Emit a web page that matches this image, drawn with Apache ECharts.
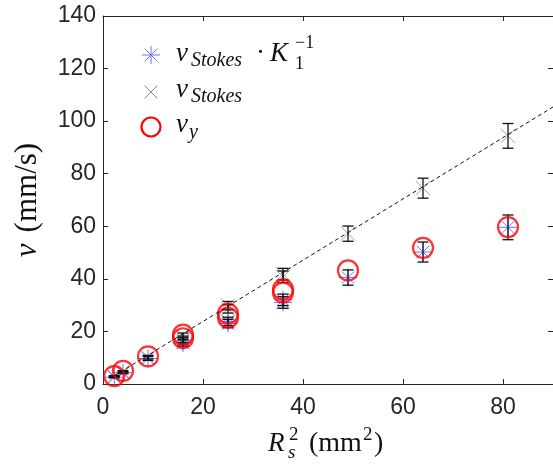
<!DOCTYPE html>
<html><head><meta charset="utf-8">
<script src="https://cdn.jsdelivr.net/npm/echarts/dist/echarts.min.js"></script>
<style>html,body{margin:0;padding:0;background:#fff}#c{width:553px;height:467px}</style>
</head><body><div id="c"></div>
<script>
// R_s^2 (mm^2)
const xR2 = [2.25, 4, 9, 16, 16, 25, 25, 36, 36, 49, 64, 81];
// measured v_y (mm/s)
const vY = [3.0, 5.0, 10.5, 18.8, 17.4, 26.8, 25.2, 36.0, 34.8, 43.2, 51.8, 59.7];
// v_Stokes (mm/s) and its error
const vStokes = [2.9, 4.7, 10.2, 18.2, 17.0, 29.8, 28.6, 41.8, 40.8, 57.2, 74.5, 94.4];
const vStokesErr = [0.3, 0.4, 0.7, 1.2, 1.2, 1.6, 1.6, 2.2, 2.2, 2.9, 3.8, 4.7];
// v_Stokes * K1^-1 (mm/s) and its error
const vStokesK = [2.6, 4.3, 9.7, 16.4, 15.6, 23.8, 23.0, 32.0, 31.0, 40.5, 50.2, 59.6];
const vStokesKErr = [0.3, 0.4, 0.7, 1.2, 1.2, 1.6, 1.6, 2.2, 2.2, 2.9, 3.8, 4.7];
// dashed fit line
const fitX = [2.25, 90];
const fitY = [3.1, 105.4];
// axis ticks
const xTicks = [0, 20, 40, 60, 80];
const yTicks = [0, 20, 40, 60, 80, 100, 120, 140];

const AX = '#262626';
const SERIF = '"Liberation Serif", serif';
const chart = echarts.init(document.getElementById('c'), null, {renderer: 'canvas'});

function errData(v, e) { return xR2.map((x, i) => [x, v[i] - e[i], v[i] + e[i]]); }
function errRender(params, api) {
  const x = api.value(0);
  const p1 = api.coord([x, api.value(2)]);
  const p2 = api.coord([x, api.value(1)]);
  const w = 5.5;
  const st = {stroke: '#111', lineWidth: 1.3};
  return {type: 'group', children: [
    {type: 'line', shape: {x1: p1[0], y1: p1[1], x2: p2[0], y2: p2[1]}, style: st},
    {type: 'line', shape: {x1: p1[0] - w, y1: p1[1], x2: p1[0] + w, y2: p1[1]}, style: st},
    {type: 'line', shape: {x1: p2[0] - w, y1: p2[1], x2: p2[0] + w, y2: p2[1]}, style: st}
  ]};
}
const STAR = 'path://M10,0L10,20M0,10L20,10M3,3L17,17M3,17L17,3';
const XMARK = 'path://M0,0L20,20M0,20L20,0';

function axisCommon(extra) {
  return Object.assign({
    type: 'value',
    axisLine: {show: true, onZero: false, lineStyle: {color: AX, width: 1}},
    axisTick: {show: true, inside: true, length: 5, lineStyle: {color: AX, width: 1}},
    splitLine: {show: false}
  }, extra);
}

// text helper: positioned by baseline
function T(str, x, base, size, italic, family) {
  return {type: 'text', x: x, y: base - 0.81 * size, silent: true,
    style: {text: str, font: (italic ? 'italic ' : '') + size + 'px ' + (family || SERIF),
      fill: '#111', textAlign: 'left', align: 'left', textVerticalAlign: 'top', verticalAlign: 'top'}};
}
function starIcon(cx, cy, r, color) {
  const d = r * 0.7071;
  const st = {stroke: color, lineWidth: 1};
  return {type: 'group', silent: true, children: [
    {type: 'line', shape: {x1: cx - r, y1: cy, x2: cx + r, y2: cy}, style: st},
    {type: 'line', shape: {x1: cx, y1: cy - r, x2: cx, y2: cy + r}, style: st},
    {type: 'line', shape: {x1: cx - d, y1: cy - d, x2: cx + d, y2: cy + d}, style: st},
    {type: 'line', shape: {x1: cx - d, y1: cy + d, x2: cx + d, y2: cy - d}, style: st}
  ]};
}
function xIcon(cx, cy, r, color) {
  const st = {stroke: color, lineWidth: 1};
  return {type: 'group', silent: true, children: [
    {type: 'line', shape: {x1: cx - r, y1: cy - r, x2: cx + r, y2: cy + r}, style: st},
    {type: 'line', shape: {x1: cx - r, y1: cy + r, x2: cx + r, y2: cy - r}, style: st}
  ]};
}

const graphic = [
  // legend
  starIcon(151, 55, 9, '#7373ff'),
  T('v', 176, 62, 27, true),
  T('Stokes', 191, 67, 20, true),
  T('·', 256, 62, 27, false),
  T('K', 270, 62, 27, true),
  T('1', 295, 70, 18, false),
  T('−1', 295, 49, 18, false),
  xIcon(151, 92, 6.5, '#8a8a8a'),
  T('v', 176, 98, 27, true),
  T('Stokes', 191, 103, 20, true),
  {type: 'circle', silent: true, shape: {cx: 151, cy: 127, r: 9.5}, style: {fill: 'none', stroke: '#ff0000', lineWidth: 2.2}},
  T('v', 176, 133, 27, true),
  T('y', 189, 139, 20, true),
  // x axis title
  T('R', 268, 452, 27, true),
  T('s', 288, 459, 19, true),
  T('2', 289, 441, 19, false),
  T('(mm', 309, 452, 28, false),
  T('2', 363, 441, 19, false),
  T(')', 374, 452, 28, false)
];

const option = {
  animation: false,
  backgroundColor: '#fff',
  grid: {left: 103, top: 16, width: 452, height: 368},
  xAxis: [
    axisCommon({min: 0, max: 90, interval: 20, position: 'bottom',
      axisLabel: {show: true, showMaxLabel: false, margin: 12, fontSize: 23, fontFamily: '"Liberation Sans", Arial', color: AX,
        formatter: v => xTicks.indexOf(v) >= 0 ? String(v) : ''}}),
    axisCommon({min: 0, max: 90, interval: 20, position: 'top', axisLabel: {show: false}})
  ],
  yAxis: [
    axisCommon({min: 0, max: 140, interval: 20, position: 'left',
      axisLabel: {show: true, margin: 7, fontSize: 23, fontFamily: '"Liberation Sans", Arial', color: AX,
        formatter: v => yTicks.indexOf(v) >= 0 ? String(v) : ''},
      name: '{i|v}{s| }{r|(mm/s)}', nameLocation: 'middle', nameRotate: 90, nameGap: 60,
      nameTextStyle: {rich: {
        i: {fontFamily: SERIF, fontStyle: 'italic', fontSize: 31, color: '#111'},
        s: {fontFamily: SERIF, fontSize: 31, width: 11},
        r: {fontFamily: SERIF, fontSize: 31, color: '#111'}}}}),
    axisCommon({min: 0, max: 140, interval: 20, position: 'right', axisLabel: {show: false}})
  ],
  graphic: graphic,
  series: [
    {type: 'custom', name: 'errK', renderItem: errRender, data: errData(vStokesK, vStokesKErr),
      encode: {x: 0, y: [1, 2]}, silent: true, z: 3},
    {type: 'custom', name: 'errS', renderItem: errRender, data: errData(vStokes, vStokesErr),
      encode: {x: 0, y: [1, 2]}, silent: true, z: 3},
    {type: 'scatter', name: 'vStokesK', symbol: STAR, symbolSize: 18, silent: true, z: 2,
      itemStyle: {color: 'none', borderColor: '#7373ff', borderWidth: 1, opacity: 1},
      data: xR2.map((x, i) => [x, vStokesK[i]])},
    {type: 'scatter', name: 'vStokes', symbol: XMARK, symbolSize: 14, silent: true, z: 2,
      itemStyle: {color: 'none', borderColor: '#8a8a8a', borderWidth: 1},
      data: xR2.map((x, i) => [x, vStokes[i]])},
    {type: 'scatter', name: 'vY', symbol: 'circle', symbolSize: 20, silent: true, z: 4,
      itemStyle: {color: 'none', borderColor: '#ff0000', borderWidth: 2.2},
      data: xR2.map((x, i) => [x, vY[i]])},
    {type: 'line', name: 'fit', silent: true, z: 5, symbol: 'none',
      lineStyle: {color: '#111', width: 1, type: [4, 3]},
      data: fitX.map((x, i) => [x, fitY[i]])}
  ]
};
chart.setOption(option);
</script>
</body></html>
